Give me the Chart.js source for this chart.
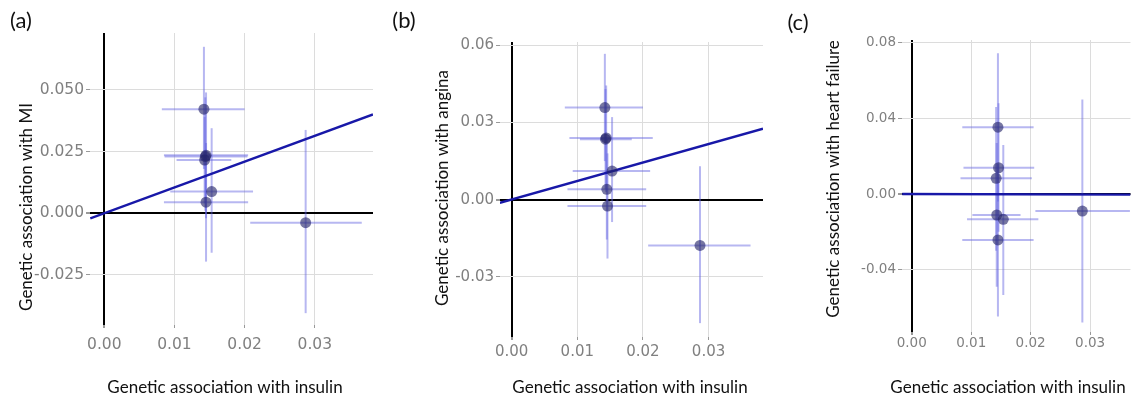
<!DOCTYPE html>
<html>
<head>
<meta charset="utf-8">
<script src="https://cdn.jsdelivr.net/npm/chart.js@4"></script>
<style>
  body { margin: 0; background: #fff; }
  canvas { position: absolute; top: 0; }
</style>
</head>
<body>
<canvas id="chartA" width="380" height="400" style="left:0"></canvas>
<canvas id="chartB" width="390" height="400" style="left:380px"></canvas>
<canvas id="chartC" width="366" height="400" style="left:770px"></canvas>
<script>
const xTicks = [0, 0.01, 0.02, 0.03];
const xTickLabels = ['0.00', '0.01', '0.02', '0.03'];

// (a) MI
const miX   = [0.0142, 0.0145, 0.0144, 0.0143, 0.0153, 0.0145, 0.0287];
const miY   = [0.0422, 0.0235, 0.0230, 0.0216, 0.0088, 0.0045, -0.0038];
const miXLo = [0.0082, 0.0085, 0.0086, 0.0103, 0.0094, 0.0085, 0.0208];
const miXHi = [0.0200, 0.0205, 0.0204, 0.0181, 0.0212, 0.0205, 0.0367];
const miYLo = [0.0180, -0.0020, 0.0010, 0.0040, -0.0160, -0.0196, -0.0405];
const miYHi = [0.0675, 0.0490, 0.0470, 0.0390, 0.0345, 0.0285, 0.0338];
const miLineX = [-0.0020, 0.0383];
const miLineY = [-0.0021, 0.0401];
const miYTicks = [-0.025, 0, 0.025, 0.05];
const miYTickLabels = ['-0.025', '0.000', '0.025', '0.050'];

// (b) angina
const anX   = [0.0142, 0.0144, 0.0143, 0.0153, 0.0145, 0.0146, 0.0287];
const anY   = [0.0358, 0.0240, 0.0235, 0.0111, 0.0040, -0.0025, -0.0178];
const anXLo = [0.0081, 0.0088, 0.0104, 0.0093, 0.0085, 0.0085, 0.0208];
const anXHi = [0.0200, 0.0215, 0.0183, 0.0211, 0.0205, 0.0205, 0.0364];
const anYLo = [0.0150, 0.0030, 0.0040, -0.0087, -0.0155, -0.0229, -0.0480];
const anYHi = [0.0567, 0.0444, 0.0430, 0.0321, 0.0235, 0.0180, 0.0130];
const anLineX = [-0.0018, 0.0383];
const anLineY = [-0.0012, 0.0276];
const anYTicks = [-0.03, 0, 0.03, 0.06];
const anYTickLabels = ['-0.03', '0.00', '0.03', '0.06'];

// (c) heart failure
const hfX   = [0.0145, 0.0146, 0.0142, 0.0143, 0.0154, 0.0145, 0.0287];
const hfY   = [0.0354, 0.0139, 0.0083, -0.0111, -0.0134, -0.0243, -0.0090];
const hfXLo = [0.0085, 0.0087, 0.0082, 0.0102, 0.0093, 0.0085, 0.0208];
const hfXHi = [0.0205, 0.0206, 0.0202, 0.0183, 0.0213, 0.0205, 0.0367];
const hfYLo = [-0.0040, -0.0200, -0.0300, -0.0490, -0.0534, -0.0648, -0.0680];
const hfYHi = [0.0745, 0.0480, 0.0460, 0.0270, 0.0259, 0.0160, 0.0500];
const hfLineX = [-0.0016, 0.0368];
const hfLineY = [0.0000, -0.0003];
const hfYTicks = [-0.04, 0, 0.04, 0.08];
const hfYTickLabels = ['-0.04', '0.00', '0.04', '0.08'];

// error bars drawn under the points
const errorBars = {
  id: 'errorBars',
  beforeDatasetsDraw(chart) {
    const { ctx, chartArea, scales: { x, y } } = chart;
    ctx.save();
    ctx.beginPath();
    ctx.rect(chartArea.left, chartArea.top, chartArea.right - chartArea.left, chartArea.bottom - chartArea.top);
    ctx.clip();
    ctx.strokeStyle = 'rgba(95,95,225,0.45)';
    ctx.lineWidth = 2;
    chart.data.datasets[0].data.forEach(pt => {
      const px = x.getPixelForValue(pt.x);
      const py = y.getPixelForValue(pt.y);
      ctx.beginPath();
      ctx.moveTo(x.getPixelForValue(pt.xLo), py);
      ctx.lineTo(x.getPixelForValue(pt.xHi), py);
      ctx.stroke();
      ctx.beginPath();
      ctx.moveTo(px, y.getPixelForValue(pt.yLo));
      ctx.lineTo(px, y.getPixelForValue(pt.yHi));
      ctx.stroke();
    });
    ctx.restore();
  }
};

// panel letter and axis titles
const panelText = {
  id: 'panelText',
  afterDraw(chart, args, opts) {
    const ctx = chart.ctx;
    ctx.save();
    ctx.fillStyle = '#111';
    ctx.textAlign = 'center';
    ctx.textBaseline = 'middle';
    ctx.font = '22px Lato';
    ctx.fillText(opts.letter, opts.letterX, opts.letterY);
    ctx.font = '17px Lato';
    ctx.fillText(opts.xTitle, opts.xTitleX, opts.xTitleY);
    ctx.translate(opts.yTitleX, opts.yTitleY);
    ctx.rotate(-Math.PI / 2);
    ctx.fillText(opts.yTitle, 0, 0);
    ctx.restore();
  }
};

function createPanel(canvasId, p) {
  const canvas = document.getElementById(canvasId);
  const W = canvas.width, H = canvas.height;
  const points = p.x.map((x, i) => ({
    x: x, y: p.y[i], xLo: p.xLo[i], xHi: p.xHi[i], yLo: p.yLo[i], yHi: p.yHi[i]
  }));
  const tickFont = { family: '"DejaVu Sans", Verdana, sans-serif', size: p.fontSize };
  const zeroColor = c => (c.tick && c.tick.value === 0 ? '#000' : '#dcdcdc');
  const zeroWidth = c => (c.tick && c.tick.value === 0 ? 2 : 1);

  new Chart(canvas.getContext('2d'), {
    type: 'scatter',
    data: {
      datasets: [
        {
          data: points,
          pointRadius: 5.5,
          pointBackgroundColor: 'rgba(35,35,105,0.62)',
          pointBorderWidth: 0,
          order: 0
        },
        {
          type: 'line',
          data: p.lineX.map((x, i) => ({ x: x, y: p.lineY[i] })),
          borderColor: '#1818a8',
          borderWidth: 2.4,
          pointRadius: 0,
          order: 1
        }
      ]
    },
    options: {
      responsive: false,
      animation: false,
      events: [],
      layout: { padding: { top: p.box.top, right: W - p.box.right, left: 0, bottom: 0 } },
      scales: {
        x: {
          type: 'linear',
          min: p.xMin,
          max: p.xMax,
          afterBuildTicks: s => { s.ticks = xTicks.map(v => ({ value: v })); },
          afterFit: s => { s.height = H - p.box.bottom; },
          ticks: {
            callback: (v, i) => xTickLabels[i],
            font: tickFont, color: '#808080', padding: p.xPad,
            maxRotation: 0, autoSkip: false
          },
          grid: { color: zeroColor, lineWidth: zeroWidth, tickLength: 3, tickColor: '#999' },
          border: { display: false }
        },
        y: {
          type: 'linear',
          min: p.yMin,
          max: p.yMax,
          afterBuildTicks: s => { s.ticks = p.yTicks.map(v => ({ value: v })); },
          afterFit: s => { s.width = p.box.left; },
          ticks: {
            callback: (v, i) => p.yTickLabels[i],
            font: tickFont, color: '#808080', padding: 2, autoSkip: false
          },
          grid: { color: zeroColor, lineWidth: zeroWidth, tickLength: 4, tickColor: '#999' },
          border: { display: false }
        }
      },
      plugins: {
        legend: { display: false },
        tooltip: { enabled: false },
        panelText: p.text
      }
    },
    plugins: [errorBars, panelText]
  });
}

createPanel('chartA', {
  x: miX, y: miY, xLo: miXLo, xHi: miXHi, yLo: miYLo, yHi: miYHi,
  lineX: miLineX, lineY: miLineY, yTicks: miYTicks, yTickLabels: miYTickLabels,
  xMin: -0.00204, xMax: 0.0383, yMin: -0.0453, yMax: 0.0731,
  box: { left: 90, right: 373, top: 33, bottom: 325 },
  fontSize: 15.5, xPad: 8,
  text: {
    letter: '(a)', letterX: 21, letterY: 21,
    xTitle: 'Genetic association with insulin', xTitleX: 225, xTitleY: 388,
    yTitle: 'Genetic association with MI', yTitleX: 27, yTitleY: 207
  }
});

createPanel('chartB', {
  x: anX, y: anY, xLo: anXLo, xHi: anXHi, yLo: anYLo, yHi: anYHi,
  lineX: anLineX, lineY: anLineY, yTicks: anYTicks, yTickLabels: anYTickLabels,
  xMin: -0.00178, xMax: 0.0383, yMin: -0.0534, yMax: 0.0613,
  box: { left: 120, right: 383, top: 42, bottom: 337 },
  fontSize: 15, xPad: 3,
  text: {
    letter: '(b)', letterX: 24, letterY: 21,
    xTitle: 'Genetic association with insulin', xTitleX: 250, xTitleY: 388,
    yTitle: 'Genetic association with angina', yTitleX: 63, yTitleY: 188
  }
});

createPanel('chartC', {
  x: hfX, y: hfY, xLo: hfXLo, xHi: hfXHi, yLo: hfYLo, yHi: hfYHi,
  lineX: hfLineX, lineY: hfLineY, yTicks: hfYTicks, yTickLabels: hfYTickLabels,
  xMin: -0.00164, xMax: 0.0368, yMin: -0.073, yMax: 0.0815,
  box: { left: 132, right: 366, top: 40, bottom: 332 },
  fontSize: 13.5, xPad: 0,
  text: {
    letter: '(c)', letterX: 28, letterY: 23,
    xTitle: 'Genetic association with insulin', xTitleX: 238, xTitleY: 388,
    yTitle: 'Genetic association with heart failure', yTitleX: 64, yTitleY: 179
  }
});
</script>
</body>
</html>
